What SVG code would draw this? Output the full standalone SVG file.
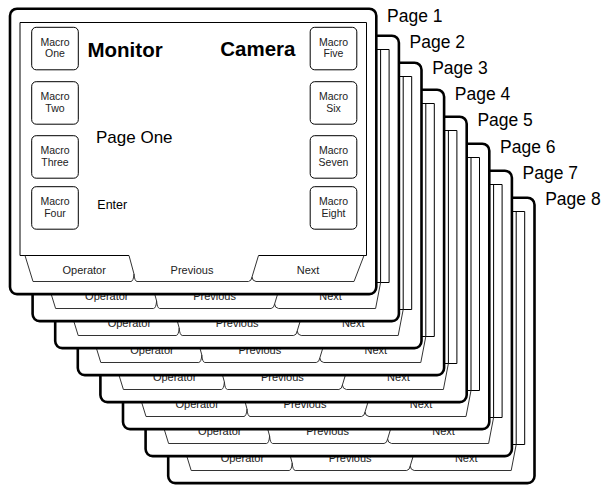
<svg xmlns="http://www.w3.org/2000/svg" xmlns:xlink="http://www.w3.org/1999/xlink" width="605" height="485" viewBox="0 0 605 485">
<style>
.outer{fill:#fff;stroke:#000;stroke-width:2.6}
.ln{fill:none;stroke:#000;stroke-width:1}
.tl{fill:none;stroke:#333;stroke-width:1}
.btn{fill:#fff;stroke:#000;stroke-width:1}
text{font-family:"Liberation Sans",Arial,sans-serif;fill:#000}
.tabt{font-size:11px;text-anchor:middle;fill:#222}
.bt{font-size:10.5px;text-anchor:middle;fill:#222}
.pl{font-size:17.5px}
.big{font-size:20.5px;font-weight:bold}
</style>
<defs>
<g id="backpage">
<rect class="outer" x="10" y="8.7" width="366.3" height="285.4" rx="7"/>
<path class="ln" d="M129,255.5 H20 V22.5 H366.5 V255.5 H258.5"/>
<path class="ln" d="M358,22.5 V255.5"/>
<path class="tl" d="M25,255.5 L33,281.5 H131 Q133.5,281 134,274 L129,255.5"/>
<path class="tl" d="M134,274 Q134.5,281 137,281.5 H248.5 Q251.5,281 252,277"/>
<path class="tl" d="M258.5,255.5 L252,277 Q252.3,281 256,281.5 H353 L358,255.5"/>
<text class="tabt" x="84.2" y="272.5">Operator</text>
<text class="tabt" x="192" y="272.5">Previous</text>
<text class="tabt" x="308" y="272.5">Next</text>
</g>
</defs>
<g id="page8"><use xlink:href="#backpage" transform="translate(158.2,189)"/><text class="pl" x="545.2" y="205">Page 8</text></g>
<g id="page7"><use xlink:href="#backpage" transform="translate(135.6,162)"/><text class="pl" x="522.6" y="178.7">Page 7</text></g>
<g id="page6"><use xlink:href="#backpage" transform="translate(113,135)"/><text class="pl" x="500" y="152.5">Page 6</text></g>
<g id="page5"><use xlink:href="#backpage" transform="translate(90.4,108)"/><text class="pl" x="477.4" y="126.3">Page 5</text></g>
<g id="page4"><use xlink:href="#backpage" transform="translate(67.8,81)"/><text class="pl" x="454.8" y="100.1">Page 4</text></g>
<g id="page3"><use xlink:href="#backpage" transform="translate(45.2,54)"/><text class="pl" x="432.2" y="73.9">Page 3</text></g>
<g id="page2"><use xlink:href="#backpage" transform="translate(22.6,27)"/><text class="pl" x="409.6" y="47.7">Page 2</text></g>
<g id="page1">
<rect class="outer" x="10" y="8.7" width="366.3" height="285.4" rx="7"/>
<path class="ln" d="M129,255.5 H20 V22.5 H366.5 V255.5 H258.5"/>
<path class="tl" d="M25,255.5 L33,281.5 H131 Q133.5,281 134,274 L129,255.5"/>
<path class="tl" d="M134,274 Q134.5,281 137,281.5 H248.5 Q251.5,281 252,277"/>
<path class="tl" d="M258.5,255.5 L252,277 Q252.3,281 256,281.5 H354 L364,255.5"/>
<text class="tabt" x="84.2" y="274">Operator</text>
<text class="tabt" x="192" y="274">Previous</text>
<text class="tabt" x="308" y="274">Next</text>
<text class="big" x="87.5" y="56.5">Monitor</text>
<text class="big" x="295.5" y="56" text-anchor="end">Camera</text>
<text x="96" y="143.3" font-size="17">Page One</text>
<text x="97.3" y="209.3" font-size="12.5">Enter</text>
<g id="macro1"><rect class="btn" x="31.7" y="27.3" width="46.6" height="42.5" rx="4.5"/><text class="bt" x="55" y="46">Macro</text><text class="bt" x="55" y="57.3">One</text></g>
<g id="macro2"><rect class="btn" x="31.7" y="81.7" width="46.6" height="42.5" rx="4.5"/><text class="bt" x="55" y="100.4">Macro</text><text class="bt" x="55" y="111.7">Two</text></g>
<g id="macro3"><rect class="btn" x="31.7" y="135.7" width="46.6" height="42.5" rx="4.5"/><text class="bt" x="55" y="154.4">Macro</text><text class="bt" x="55" y="165.7">Three</text></g>
<g id="macro4"><rect class="btn" x="31.7" y="186.7" width="46.6" height="42.5" rx="4.5"/><text class="bt" x="55" y="205.4">Macro</text><text class="bt" x="55" y="216.7">Four</text></g>
<g id="macro5"><rect class="btn" x="310.2" y="27.3" width="46.6" height="42.5" rx="4.5"/><text class="bt" x="333.5" y="46">Macro</text><text class="bt" x="333.5" y="57.3">Five</text></g>
<g id="macro6"><rect class="btn" x="310.2" y="81.7" width="46.6" height="42.5" rx="4.5"/><text class="bt" x="333.5" y="100.4">Macro</text><text class="bt" x="333.5" y="111.7">Six</text></g>
<g id="macro7"><rect class="btn" x="310.2" y="135.7" width="46.6" height="42.5" rx="4.5"/><text class="bt" x="333.5" y="154.4">Macro</text><text class="bt" x="333.5" y="165.7">Seven</text></g>
<g id="macro8"><rect class="btn" x="310.2" y="186.7" width="46.6" height="42.5" rx="4.5"/><text class="bt" x="333.5" y="205.4">Macro</text><text class="bt" x="333.5" y="216.7">Eight</text></g>
<text class="pl" x="387" y="21.5">Page 1</text>
</g>
</svg>
